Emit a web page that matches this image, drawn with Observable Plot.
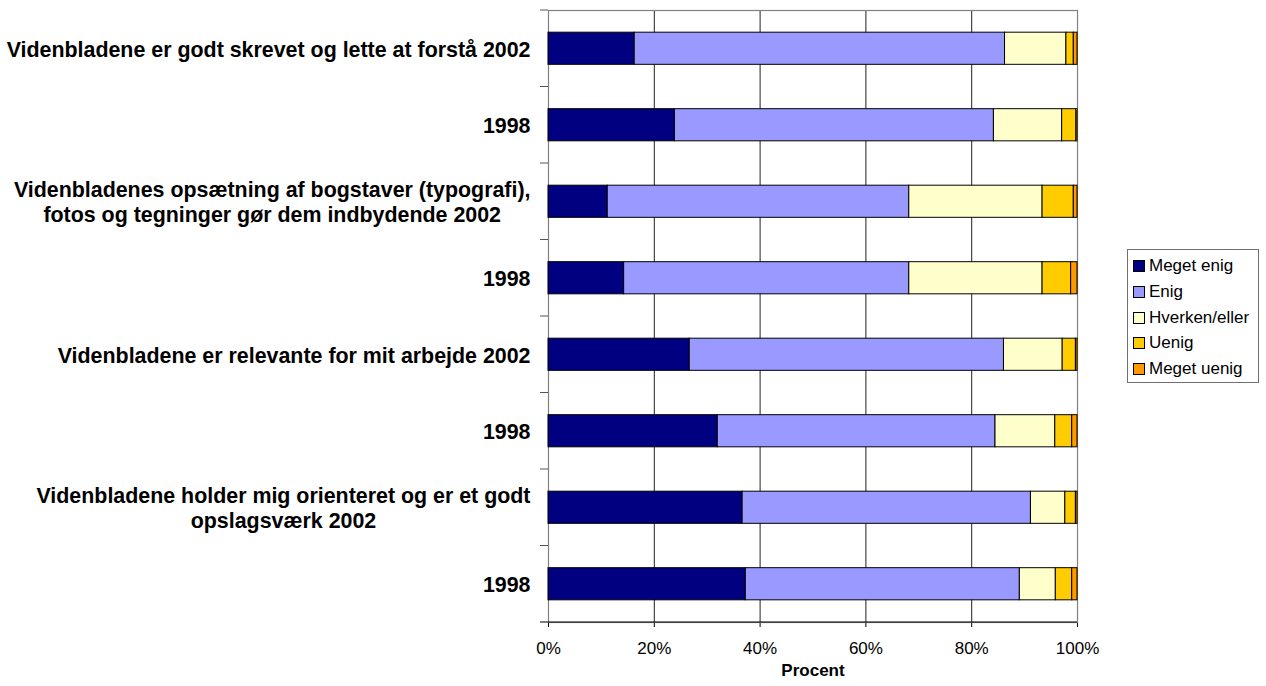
<!DOCTYPE html>
<html>
<head>
<meta charset="utf-8">
<script src="https://cdn.jsdelivr.net/npm/d3@7"></script>
<script src="https://cdn.jsdelivr.net/npm/@observablehq/plot@0.6"></script>
<style>
  html, body { margin: 0; padding: 0; background: #fff; }
  #wrap { position: relative; width: 1266px; height: 686px; font-family: "Liberation Sans", Arial, sans-serif; }
  #legend { position: absolute; left: 1127px; top: 249px; width: 132px; height: 134px; border: 1px solid #707070; box-sizing: border-box; background: #fff; }
  #legend .item { position: absolute; left: 5px; height: 20px; display: flex; align-items: center; font-size: 17px; color: #000; white-space: nowrap; }
  #legend .sw { width: 10px; height: 10px; border: 1px solid #000; margin-right: 4px; }
</style>
</head>
<body>
<div id="wrap"><div id="legend"></div></div>
<script>
const rowIds = ["r1", "r2", "r3", "r4", "r5", "r6", "r7", "r8"];
const rowLabels = [
  "Videnbladene er godt skrevet og lette at forstå 2002",
  "1998",
  "Videnbladenes opsætning af bogstaver (typografi),\nfotos og tegninger gør dem indbydende 2002",
  "1998",
  "Videnbladene er relevante for mit arbejde 2002",
  "1998",
  "Videnbladene holder mig orienteret og er et godt\nopslagsværk 2002",
  "1998"
];
const seriesNames = ["Meget enig", "Enig", "Hverken/eller", "Uenig", "Meget uenig"];
const seriesColors = ["#000080", "#9999FF", "#FFFFCC", "#FFCC00", "#FF9900"];
const megetEnig = [16.3, 23.9, 11.2, 14.3, 26.7, 32.0, 36.7, 37.3];
const enig = [70.0, 60.3, 57.0, 53.9, 59.4, 52.5, 54.5, 51.8];
const hverkenEller = [11.6, 12.9, 25.2, 25.2, 11.1, 11.3, 6.5, 6.8];
const uenig = [1.4, 2.7, 5.9, 5.4, 2.5, 3.2, 2.0, 3.1];
const megetUenig = [0.7, 0.2, 0.7, 1.2, 0.3, 1.0, 0.3, 1.0];
const xTicks = [0, 20, 40, 60, 80, 100];
const gridTicks = [20, 40, 60, 80];
const xLabel = "Procent";

const seriesValues = [megetEnig, enig, hverkenEller, uenig, megetUenig];
const data = [];
seriesNames.forEach((s, si) => rowIds.forEach((r, ri) => data.push({row: r, series: s, value: seriesValues[si][ri]})));
const labelRows = rowIds.map((id, i) => ({row: id, label: rowLabels[i]}));

const svgns = "http://www.w3.org/2000/svg";
function boundaryTicks(...args) {
  const scales = args.find(a => a && typeof a === "object" && typeof a.y === "function" && typeof a.x === "function");
  const g = document.createElementNS(svgns, "g");
  if (!scales) return g;
  const y = scales.y, x = scales.x;
  const step = y.step(), bw = y.bandwidth();
  const x0 = x(0), x1 = x(100);
  const tops = rowIds.map(id => y(id) - (step - bw) / 2);
  tops.push(tops[tops.length - 1] + step);
  tops.forEach((t, i) => {
    const l = document.createElementNS(svgns, "line");
    l.setAttribute("x1", x0 - 8);
    l.setAttribute("x2", i === tops.length - 1 ? x1 : x0);
    l.setAttribute("y1", t);
    l.setAttribute("y2", t);
    l.setAttribute("stroke", i === tops.length - 1 ? "#000" : "#555");
    l.setAttribute("stroke-width", 1);
    g.appendChild(l);
  });
  return g;
}

const chart = Plot.plot({
  width: 1266,
  height: 686,
  marginLeft: 548,
  marginRight: 189,
  marginTop: 10,
  marginBottom: 64,
  style: {fontFamily: "'Liberation Sans', Arial, sans-serif", fontSize: "17px", background: "#fff", color: "#000"},
  x: {domain: [0, 100], ticks: xTicks, tickFormat: d => d + "%", tickSize: 5, tickPadding: 14, label: null},
  y: {domain: rowIds, paddingInner: 0.58, paddingOuter: 0.29, align: 0.5, round: false, axis: null},
  color: {domain: seriesNames, range: seriesColors},
  marks: [
    Plot.ruleX(gridTicks, {stroke: "#222", strokeWidth: 1}),
    Plot.frame({stroke: "#808080", strokeWidth: 1.2}),
    Plot.barX(data, {x: "value", y: "row", fill: "series", stroke: "#000", strokeWidth: 1, order: seriesNames, inset: 0}),
    boundaryTicks,
    Plot.text(labelRows, {y: "row", text: "label", frameAnchor: "left", dx: -18, textAnchor: "end", fontSize: 21.4, fontWeight: "bold", lineHeight: 1.15, fill: "#000"}),
    Plot.text([xLabel], {frameAnchor: "bottom", dy: 53, fontSize: 17, fontWeight: "bold", fill: "#000"})
  ]
});

const wrap = document.getElementById("wrap");
wrap.insertBefore(chart, wrap.firstChild);

// center multi-line labels within their block, block right-aligned
chart.querySelectorAll("text").forEach(t => {
  const spans = t.querySelectorAll("tspan");
  if (spans.length > 1) {
    let w = 0;
    spans.forEach(s => { w = Math.max(w, s.getComputedTextLength()); });
    t.setAttribute("text-anchor", "middle");
    const tr = t.getAttribute("transform") || "";
    t.setAttribute("transform", tr + ` translate(${-w / 2},0)`);
  }
});

const legend = document.getElementById("legend");
seriesNames.forEach((s, i) => {
  const it = document.createElement("div");
  it.className = "item";
  it.style.top = (6 + i * 25.8) + "px";
  const sw = document.createElement("span");
  sw.className = "sw";
  sw.style.background = seriesColors[i];
  const tx = document.createElement("span");
  tx.textContent = s;
  it.appendChild(sw);
  it.appendChild(tx);
  legend.appendChild(it);
});
</script>
</body>
</html>
